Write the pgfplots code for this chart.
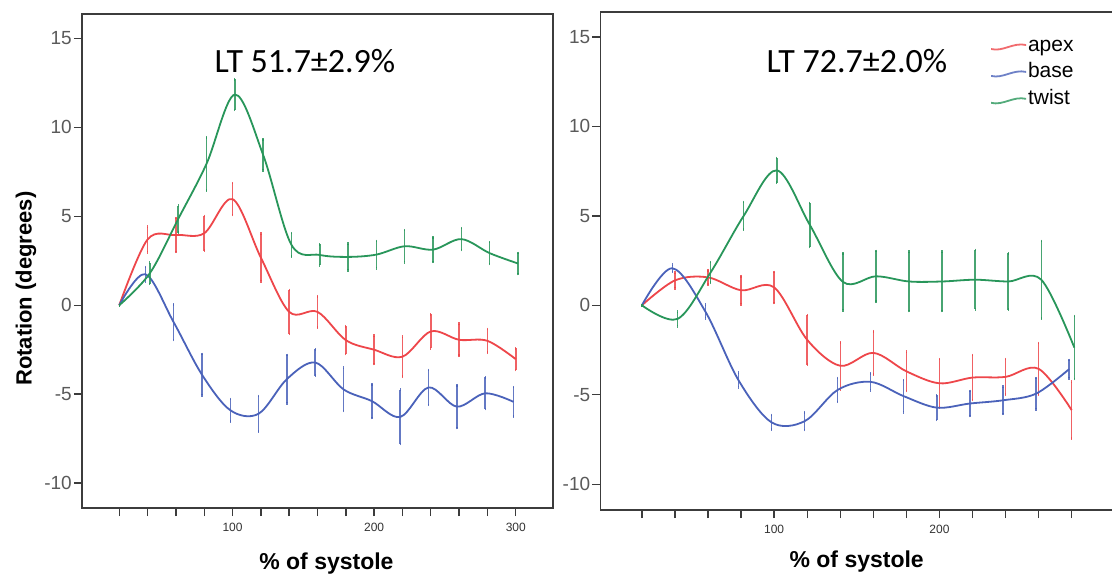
\documentclass[border=0pt]{standalone}
\usepackage{fontspec}
\setmainfont{Liberation Sans}
\newfontfamily\carlito{Carlito}
\usepackage{pgfplots}
\usepackage{pgfplotstable}
\pgfplotsset{compat=1.18}

\definecolor{capex}{RGB}{238,70,74}
\definecolor{cbase}{RGB}{74,98,186}
\definecolor{ctwist}{RGB}{40,150,90}
\definecolor{frame}{RGB}{60,60,60}
\definecolor{ticklab}{RGB}{90,90,90}

% left panel (LT 51.7)
\pgfplotstableread{
x y e
20 0 0
40 3.70 0.72
60 3.95 0.95
80 4.05 0.97
100 5.97 0.90
120 2.68 1.34
140 -0.37 1.24
160 -0.37 0.88
180 -1.96 0.78
200 -2.50 0.80
220 -2.89 1.13
240 -1.47 0.96
260 -1.94 0.90
280 -2.00 0.67
300 -3.03 0.61
}\LApex
\pgfplotstableread{
x y e
20 0 0
38.4 1.75 0.40
58.4 -0.95 1.00
78.4 -3.90 1.16
98.4 -5.90 0.64
118.4 -6.10 1.00
138.4 -4.15 1.36
158.4 -3.22 0.74
178.4 -4.73 1.22
198.4 -5.39 0.95
218.4 -6.28 1.53
238.4 -4.62 0.98
258.4 -5.70 1.20
278.4 -4.95 0.89
298.4 -5.43 0.83
}\LBase
\pgfplotstableread{
x y e
20 0 0
41.6 1.80 0.60
61.6 4.85 0.76
81.6 7.95 1.50
101.6 11.85 0.86
121.6 8.46 0.87
141.6 3.40 0.66
161.6 2.83 0.59
181.6 2.72 0.75
201.6 2.85 0.77
221.6 3.32 0.91
241.6 3.13 0.69
261.6 3.72 0.62
281.6 2.93 0.62
301.6 2.35 0.59
}\LTwist
% right panel (LT 72.7)
\pgfplotstableread{
x y e
20 0 0
40 1.39 0.44
60 1.56 0.40
80 0.84 0.78
100 1.00 0.87
120 -1.93 1.38
140 -3.38 1.31
160 -2.66 1.21
180 -3.69 1.10
200 -4.36 1.35
220 -4.04 1.26
240 -4.00 1.00
260 -3.55 1.45
280 -5.86 1.59
}\RApex
\pgfplotstableread{
x y e
20 0 0
38.4 2.07 0.20
58.4 -0.35 0.38
78.4 -4.18 0.41
98.4 -6.54 0.41
118.4 -6.48 0.50
138.4 -4.73 0.67
158.4 -4.28 0.47
178.4 -5.08 0.90
198.4 -5.72 0.68
218.4 -5.49 0.70
238.4 -5.31 0.76
258.4 -4.94 0.87
278.4 -3.57 0.51
}\RBase
\pgfplotstableread{
x y e
20 0 0
41.6 -0.76 0.41
61.6 1.84 0.58
81.6 5.00 0.77
101.6 7.54 0.69
121.6 4.49 1.23
141.6 1.31 1.59
161.6 1.62 1.42
181.6 1.33 1.66
201.6 1.33 1.66
221.6 1.43 1.66
241.6 1.33 1.57
261.6 1.43 2.17
281.6 -2.36 1.76
}\RTwist

\pgfplotsset{
  panel/.style={
    scale only axis,
    axis line style={frame, line width=1.6pt},
    every tick/.style={frame, line width=1.4pt},
    major tick length=8pt,
    tick align=outside,
    xtick pos=bottom, ytick pos=left,
    ytick={-10,-5,0,5,10,15},
    /pgf/number format/assume math mode=true,
    yticklabel style={font=\fontsize{19}{19}\selectfont, text=ticklab, inner sep=2pt},
    xticklabel style={font=\fontsize{12}{12}\selectfont, text=black!80, yshift=-4pt},
    xlabel style={font=\bfseries\fontsize{23}{23}\selectfont, anchor=base},
    clip=false,
  },
  ser/.style={color=#1, line width=1.8pt, smooth, tension=0.55, mark=none,
    error bars/.cd, y dir=both, y explicit,
    error bar style={line width=1.5pt, #1, opacity=0.85},
    error mark options={line width=1.3pt, mark size=1.3pt, #1}},
}

\begin{document}
\begin{tikzpicture}[x=1pt,y=1pt]
\useasboundingbox (0,0) rectangle (1112,576);
\fill[white] (0,0) rectangle (1112,576);

\begin{axis}[panel,
  at={(82pt,68pt)}, anchor=south west,
  width=471pt, height=494pt,
  xmin=-6.3, xmax=326.3, ymin=-11.40, ymax=16.38,
  xtick={20,40,...,300},
  xticklabels={,,,,100,,,,,200,,,,,300},
  xlabel={\% of systole},
  xlabel style={at={(axis description cs:0.519,-0.1255)}},
  ylabel={Rotation (degrees)},
  ylabel style={font=\bfseries\fontsize{22}{22}\selectfont, at={(axis description cs:-0.119,0.444)}, anchor=center},
]
\addplot[ser=capex] table[x=x,y=y,y error=e] {\LApex};
\addplot[ser=cbase] table[x=x,y=y,y error=e] {\LBase};
\addplot[ser=ctwist] table[x=x,y=y,y error=e] {\LTwist};
\node[anchor=base, font=\carlito\fontsize{34}{34}\selectfont] at (rel axis cs:0.4735,0.881) {LT 51.7±2.9\%};
\end{axis}

\begin{axis}[panel,
  at={(600.4pt,66pt)}, anchor=south west,
  width=513.6pt, height=498pt,
  xmin=-5.1, xmax=305.6, ymin=-11.44, ymax=16.39,
  xtick={20,40,...,280},
  xticklabels={,,,,100,,,,,200,,,,},
  xlabel={\% of systole},
  xlabel style={at={(axis description cs:0.499,-0.1145)}},
  legend style={at={(axis description cs:0.7586,0.964)}, anchor=north west,
    draw=none, fill=none, inner sep=0pt, row sep=0pt,
    font=\fontsize{21}{21}\selectfont,
    nodes={text height=15pt, text depth=5pt, inner sep=1pt}},
  legend cell align=left,
  legend image code/.code={\path (0pt,15pt) -- (0pt,15pt);
    \draw[#1, line width=1.8pt, opacity=0.8] (0pt,-3pt) .. controls (12pt,-6pt) and (22pt,4pt) .. (35pt,1pt);},
]
\addplot[ser=capex] table[x=x,y=y,y error=e] {\RApex};
\addlegendentry{apex}
\addplot[ser=cbase] table[x=x,y=y,y error=e] {\RBase};
\addlegendentry{base}
\addplot[ser=ctwist] table[x=x,y=y,y error=e] {\RTwist};
\addlegendentry{twist}
\node[anchor=base, font=\carlito\fontsize{34}{34}\selectfont] at (rel axis cs:0.4996,0.878) {LT 72.7±2.0\%};
\end{axis}
\end{tikzpicture}
\end{document}
